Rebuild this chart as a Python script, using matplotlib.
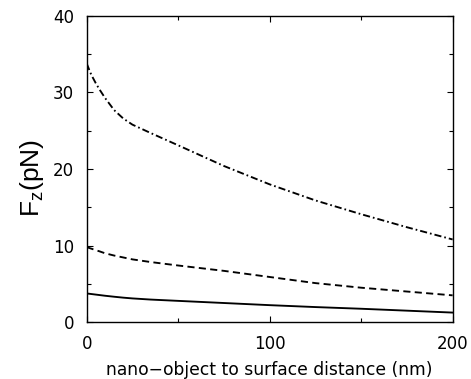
import matplotlib
matplotlib.use('Agg')
import matplotlib.pyplot as plt
from matplotlib.ticker import MultipleLocator

plt.rcParams['font.family'] = ['DejaVu Sans']
plt.rcParams['mathtext.fontset'] = 'custom'
plt.rcParams['mathtext.rm'] = 'Liberation Sans'

# distance (nm)
distance = [0, 1, 2, 3, 5, 7, 10, 15, 20, 25, 35, 50, 75, 100, 125, 150, 175, 200]
# Fz (pN)
fz_dashdot = [33.8, 33.2, 32.6, 32.1, 31.2, 30.4, 29.3, 27.7, 26.6, 25.8, 24.7, 23.1,
              20.4, 18.0, 15.9, 14.1, 12.4, 10.8]
fz_dashed = [9.8, 9.72, 9.64, 9.56, 9.4, 9.25, 9.0, 8.7, 8.45, 8.2, 7.85, 7.4,
             6.7, 5.9, 5.1, 4.5, 4.0, 3.5]
fz_solid = [3.75, 3.72, 3.69, 3.66, 3.6, 3.54, 3.45, 3.32, 3.2, 3.1, 2.95, 2.78,
            2.5, 2.22, 1.97, 1.75, 1.5, 1.25]


def main():
    fig = plt.figure(figsize=(4.71, 3.79), dpi=100)
    ax = fig.add_axes([0.184, 0.150, 0.777, 0.808])

    ax.plot(distance, fz_solid, color='black', lw=1.35, ls='-')
    ax.plot(distance, fz_dashed, color='black', lw=1.35, ls=(0, (3.8, 2.3)))
    ax.plot(distance, fz_dashdot, color='black', lw=1.35, ls=(0, (3.8, 1.6, 0.9, 1.6)))

    ax.set_xlim(0, 200)
    ax.set_ylim(0, 40)
    ax.xaxis.set_major_locator(MultipleLocator(100))
    ax.xaxis.set_minor_locator(MultipleLocator(50))
    ax.yaxis.set_major_locator(MultipleLocator(10))
    ax.yaxis.set_minor_locator(MultipleLocator(5))
    ax.tick_params(which='both', direction='in', top=True, right=True, width=0.8)
    ax.tick_params(which='major', length=4, labelsize=12)
    ax.tick_params(which='minor', length=3)
    ax.tick_params(axis='x', pad=9)
    ax.tick_params(axis='y', pad=9)
    for s in ax.spines.values():
        s.set_linewidth(1.0)

    ax.set_xlabel('nano\u2212object to surface distance (nm)', fontsize=12.3)
    ax.xaxis.set_label_coords(0.5, -0.128)
    ax.set_ylabel(r'$\mathregular{F_z}$(pN)', fontsize=19, family='Liberation Sans')
    ax.yaxis.set_label_coords(-0.11, 0.47)

    fig.savefig('out.png', dpi=100)


if __name__ == '__main__':
    main()
